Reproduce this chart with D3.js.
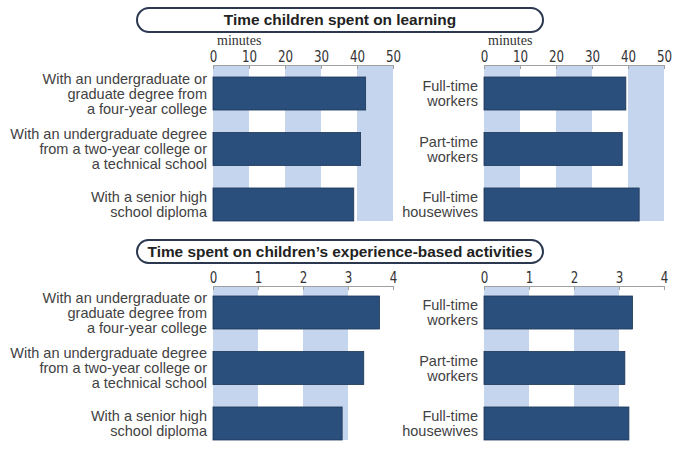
<!DOCTYPE html>
<html>
<head>
<meta charset="utf-8">
<script src="https://cdn.jsdelivr.net/npm/d3@7"></script>
<style>
  body { margin: 0; background: #fff; }
  svg { display: block; }
  .cat { font-family: "Liberation Sans", Arial, sans-serif; font-size: 14.5px; fill: #424242; }
  .tick text { font-family: "Liberation Sans Narrow", "DejaVu Sans Condensed", "Liberation Sans", sans-serif; font-size: 16.5px; fill: #333; }
  .unit { font-family: "Liberation Serif", "Times New Roman", serif; font-size: 14px; fill: #333; }
  .title { font-family: "Liberation Sans", Arial, sans-serif; font-weight: bold; font-size: 15.4px; fill: #222; }
</style>
</head>
<body>
<div id="chart"></div>
<script>
const educationLabels = [
  ["With an undergraduate or", "graduate degree from", "a four-year college"],
  ["With an undergraduate degree", "from a two-year college or", "a technical school"],
  ["With a senior high", "school diploma"]
];
const employmentLabels = [
  ["Full-time", "workers"],
  ["Part-time", "workers"],
  ["Full-time", "housewives"]
];
const learningByEducation = [42.4, 41.0, 39.1];
const learningByEmployment = [39.4, 38.4, 43.1];
const experienceByEducation = [3.70, 3.35, 2.87];
const experienceByEmployment = [3.30, 3.13, 3.22];
const learningTicks = [0, 10, 20, 30, 40, 50];
const experienceTicks = [0, 1, 2, 3, 4];
const titles = [
  "Time children spent on learning",
  "Time spent on children\u2019s experience-based activities"
];
const unitLabel = "minutes";

const width = 680;
const height = 452;
const barColor = "#2a4f7d";
const stripeColor = "#c6d5ee";

const svg = d3.select("#chart")
  .append("svg")
  .attr("width", width)
  .attr("height", height);

// title boxes
const titleBoxes = [
  { text: titles[0], y: 8, h: 24 },
  { text: titles[1], y: 240, h: 23 }
];
titleBoxes.forEach(t => {
  svg.append("rect")
    .attr("x", 137)
    .attr("y", t.y)
    .attr("width", 406)
    .attr("height", t.h)
    .attr("rx", t.h / 2)
    .attr("fill", "#fff")
    .attr("stroke", "#2b3850")
    .attr("stroke-width", 2);
  svg.append("text")
    .attr("class", "title")
    .attr("x", 340)
    .attr("y", t.y + t.h / 2 + 5.3)
    .attr("text-anchor", "middle")
    .text(t.text);
});

const panels = [
  { x0: 213, x1: 393, axisY: 65, top: 77, bottom: 221, ticks: learningTicks,
    labels: educationLabels, values: learningByEducation, unit: true },
  { x0: 484, x1: 664, axisY: 65, top: 77, bottom: 221, ticks: learningTicks,
    labels: employmentLabels, values: learningByEmployment, unit: true },
  { x0: 213, x1: 393, axisY: 286, top: 296, bottom: 440, ticks: experienceTicks,
    labels: educationLabels, values: experienceByEducation, unit: false },
  { x0: 484, x1: 664, axisY: 286, top: 296, bottom: 440, ticks: experienceTicks,
    labels: employmentLabels, values: experienceByEmployment, unit: false }
];

panels.forEach(p => {
  const g = svg.append("g");
  const x = d3.scaleLinear()
    .domain([0, d3.max(p.ticks)])
    .range([p.x0, p.x1]);
  const y = d3.scaleBand()
    .domain(d3.range(p.values.length))
    .range([p.top, p.bottom])
    .paddingInner(0.405)
    .paddingOuter(0);

  // alternating stripes behind the bars
  const stripes = [];
  for (let i = 0; i + 1 < p.ticks.length; i += 2) {
    stripes.push([p.ticks[i], p.ticks[i + 1]]);
  }
  g.selectAll(".stripe")
    .data(stripes)
    .join("rect")
    .attr("x", d => x(d[0]))
    .attr("y", p.axisY)
    .attr("width", d => x(d[1]) - x(d[0]))
    .attr("height", p.bottom - p.axisY)
    .attr("fill", stripeColor);

  const axis = d3.axisTop(x)
    .tickValues(p.ticks)
    .tickFormat(d3.format("d"))
    .tickSizeInner(-4)
    .tickSizeOuter(0)
    .tickPadding(3);
  const ax = g.append("g")
    .attr("transform", `translate(0,${p.axisY})`)
    .call(axis);
  ax.select(".domain").attr("stroke", "#a0a0a0");
  ax.selectAll(".tick line").attr("stroke", "#a0a0a0");
  ax.selectAll(".tick text")
    .attr("fill", null)
    .attr("transform", "scale(0.8,1)");

  if (p.unit) {
    g.append("text")
      .attr("class", "unit")
      .attr("x", p.x0 + 4)
      .attr("y", p.axisY - 20.5)
      .text(unitLabel);
  }

  g.selectAll(".bar")
    .data(p.values)
    .join("rect")
    .attr("x", x(0))
    .attr("y", (d, i) => y(i))
    .attr("width", d => x(d) - x(0))
    .attr("height", y.bandwidth())
    .attr("fill", barColor)
    .attr("stroke", "#1c3657")
    .attr("stroke-width", 0.8);

  const lineH = 15;
  g.selectAll(".cat")
    .data(p.labels)
    .join("text")
    .attr("class", "cat")
    .attr("text-anchor", "end")
    .each(function (lines, i) {
      const cy = y(i) + y.bandwidth() / 2;
      const startY = cy - (lines.length - 1) * lineH / 2 + 5;
      d3.select(this).selectAll("tspan")
        .data(lines)
        .join("tspan")
        .attr("x", p.x0 - 6)
        .attr("y", (d, j) => startY + j * lineH)
        .text(d => d);
    });
});
</script>
</body>
</html>
